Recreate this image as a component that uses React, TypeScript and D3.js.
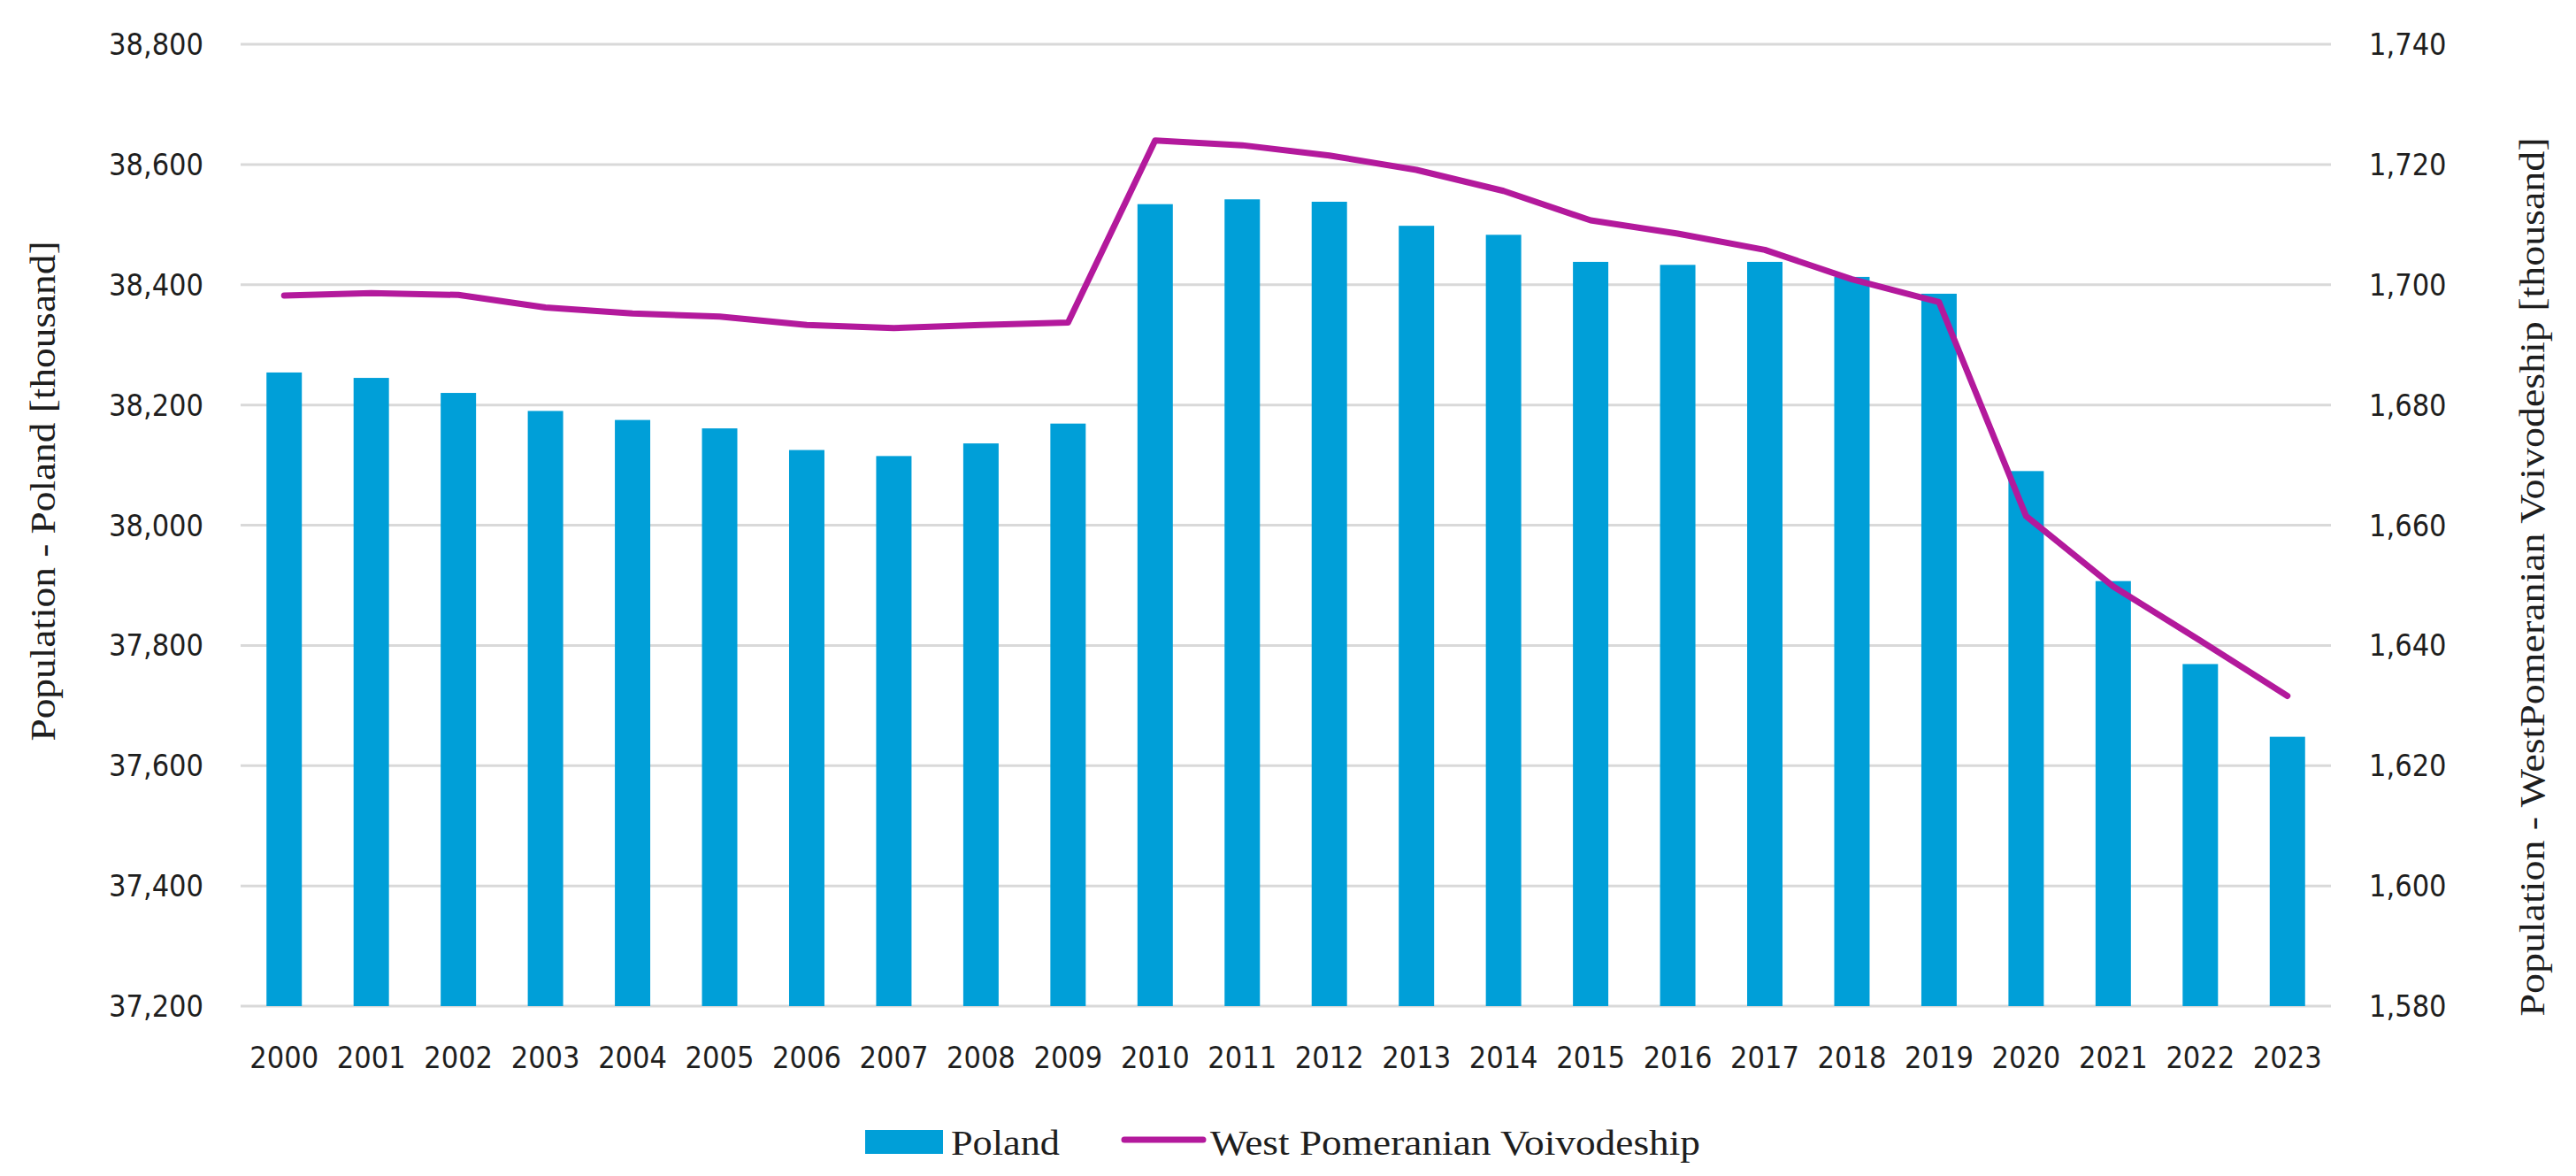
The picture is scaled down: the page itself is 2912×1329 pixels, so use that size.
import React from "react";
import * as d3 from "d3";

const years = ["2000","2001","2002","2003","2004","2005","2006","2007","2008","2009","2010","2011","2012","2013","2014","2015","2016","2017","2018","2019","2020","2021","2022","2023"];
const poland = [38254, 38245, 38220, 38190, 38175, 38161, 38125, 38115, 38136, 38169, 38534, 38542, 38538, 38498, 38483, 38438, 38433, 38438, 38413, 38385, 38090, 37907, 37769, 37648];
const westPomeranian = [1698.2, 1698.6, 1698.3, 1696.2, 1695.2, 1694.7, 1693.3, 1692.8, 1693.3, 1693.7, 1724.0, 1723.2, 1721.5, 1719.1, 1715.6, 1710.7, 1708.5, 1705.8, 1700.9, 1697.1, 1661.5, 1649.8, 1640.8, 1631.6];
const leftTicks = [37200, 37400, 37600, 37800, 38000, 38200, 38400, 38600, 38800];
const rightTicks = [1580, 1600, 1620, 1640, 1660, 1680, 1700, 1720, 1740];
const seriesNames = ["Poland", "West Pomeranian Voivodeship"];
const leftTitle = "Population - Poland [thousand]";
const rightTitle = "Population - WestPomeranian Voivodeship [thousand]";

const W = 2912;
const H = 1329;
const plot = { left: 272, right: 2635, top: 50, bottom: 1137 };
const BAR = "#009FD8";
const LINE = "#B3199C";
const GRID = "#D9D9D9";
const TEXT = "#1e1e1e";
const SERIF = "'Liberation Serif', 'Times New Roman', serif";
const SANS = "'DejaVu Sans Condensed', 'DejaVu Sans', sans-serif";

export default function App() {
  const x = d3.scaleBand<string>().domain(years).range([plot.left, plot.right]).paddingInner(0.594).paddingOuter(0.297);
  const yL = d3.scaleLinear().domain([37200, 38800]).range([plot.bottom, plot.top]);
  const yR = d3.scaleLinear().domain([1580, 1740]).range([plot.bottom, plot.top]);
  const fmt = d3.format(",");
  const cx = (y: string) => (x(y) as number) + x.bandwidth() / 2;
  const line = d3.line<number>().x((_, i) => cx(years[i])).y((d) => yR(d));

  const tickStyle = { fontFamily: SANS, fontStretch: "condensed" as const };

  return (
    <div style={{ position: "absolute", left: 0, top: 0 }}>
      <svg width={W} height={H} style={{ display: "block", background: "#fff" }} fontFamily={SERIF}>
        <rect x={0} y={0} width={W} height={H} fill="#fff" />
        {leftTicks.map((t) => (
          <line key={t} x1={plot.left} x2={plot.right} y1={yL(t)} y2={yL(t)} stroke={GRID} strokeWidth={3} />
        ))}
        {poland.map((v, i) => (
          <rect key={years[i]} x={x(years[i])} y={yL(v)} width={x.bandwidth()} height={plot.bottom - yL(v)} fill={BAR} />
        ))}
        <path d={line(westPomeranian) || ""} fill="none" stroke={LINE} strokeWidth={7} strokeLinejoin="round" strokeLinecap="round" />
        {leftTicks.map((t) => (
          <text key={t} x={230} y={yL(t)} textAnchor="end" dominantBaseline="central" fontSize={34} fill={TEXT} style={tickStyle}>{fmt(t)}</text>
        ))}
        {rightTicks.map((t) => (
          <text key={t} x={2678} y={yR(t)} textAnchor="start" dominantBaseline="central" fontSize={34} fill={TEXT} style={tickStyle}>{fmt(t)}</text>
        ))}
        {years.map((yr) => (
          <text key={yr} x={cx(yr)} y={1195} textAnchor="middle" dominantBaseline="central" fontSize={34} fill={TEXT} style={tickStyle}>{yr}</text>
        ))}
        <text transform={`translate(48, 555) rotate(-90)`} textAnchor="middle" dominantBaseline="central" fontSize={40} fill={TEXT} textLength={565} lengthAdjust="spacingAndGlyphs">{leftTitle}</text>
        <text transform={`translate(2862, 652) rotate(-90)`} textAnchor="middle" dominantBaseline="central" fontSize={40} fill={TEXT} textLength={993} lengthAdjust="spacingAndGlyphs">{rightTitle}</text>
        <g>
          <rect x={978} y={1277} width={88} height={27} fill={BAR} />
          <text x={1075} y={1291} dominantBaseline="central" fontSize={40} fill={TEXT} textLength={123} lengthAdjust="spacingAndGlyphs">{seriesNames[0]}</text>
          <line x1={1271} x2={1360} y1={1288} y2={1288} stroke={LINE} strokeWidth={7} strokeLinecap="round" />
          <text x={1368} y={1291} dominantBaseline="central" fontSize={40} fill={TEXT} textLength={554} lengthAdjust="spacingAndGlyphs">{seriesNames[1]}</text>
        </g>
      </svg>
    </div>
  );
}
